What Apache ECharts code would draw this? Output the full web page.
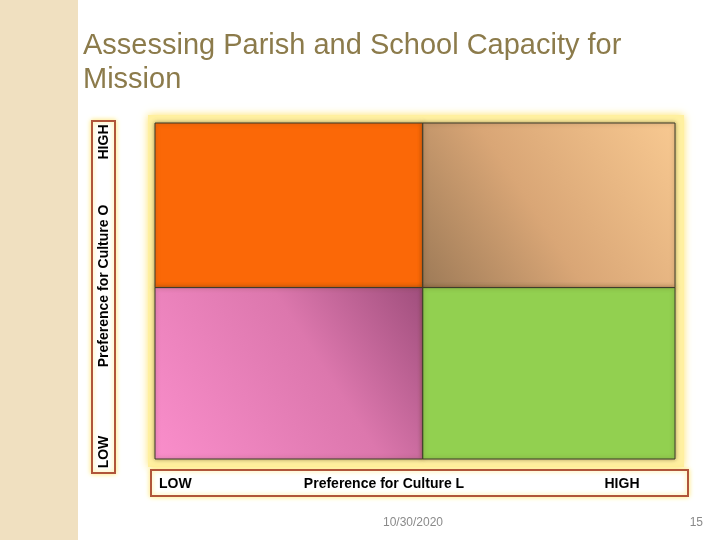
<!DOCTYPE html>
<html>
<head>
<meta charset="utf-8">
<script src="https://cdn.jsdelivr.net/npm/echarts@6/dist/echarts.min.js"></script>
<style>
  html, body { margin: 0; padding: 0; background: #fff; }
  #chart { width: 720px; height: 540px; }
</style>
</head>
<body>
<div id="chart"></div>
<script>
// quadrants of the 2x2 matrix: column (Culture L) and row (Culture O)
const quadrants = ['lowL_highO', 'highL_highO', 'lowL_lowO', 'highL_lowO'];
const quadCol = [0, 1, 0, 1];
const quadRow = [1, 1, 0, 0];
// split points (the left column is a bit wider)
const xEdges = [0, 1.03, 2];
const yEdges = [0, 1.02, 2];

const xLabels = ['LOW', 'Preference for Culture L', 'HIGH'];
const yLabels = ['LOW', 'Preference for Culture O', 'HIGH'];

const titleText = 'Assessing Parish and School Capacity for\nMission';
const footDate = '10/30/2020';
const footPage = '15';

const fills = [
  '#fb6807',
  new echarts.graphic.LinearGradient(0, 1, 1, 0, [
    { offset: 0, color: '#9d7a57' },
    { offset: 0.45, color: '#d9a676' },
    { offset: 1, color: '#f8c991' }
  ]),
  new echarts.graphic.LinearGradient(0, 1, 1, 0, [
    { offset: 0, color: '#fa8ecb' },
    { offset: 0.6, color: '#dc77ad' },
    { offset: 1, color: '#9f4e7c' }
  ]),
  '#92d050'
];

const boldFont = 'bold 14px "Liberation Sans", Arial, sans-serif';

var myChart = echarts.init(document.getElementById('chart'));

myChart.setOption({
  animation: false,
  grid: { left: 155, top: 123, width: 520, height: 336 },
  xAxis: { type: 'value', min: 0, max: 2, show: false },
  yAxis: { type: 'value', min: 0, max: 2, show: false },
  graphic: [
    // left decorative strip
    { type: 'rect', z: -10, shape: { x: 0, y: 0, width: 78, height: 540 },
      style: { fill: '#f0e0c0' } },
    // yellow glow behind the matrix
    { type: 'rect', z: -5, shape: { x: 148, y: 115, width: 536, height: 352 },
      style: { fill: '#fff0a0', shadowBlur: 8, shadowColor: '#ffe36a' } },
    // title
    { type: 'text', left: 83, top: 29, z: 10,
      style: { text: titleText, fill: '#8c7b4b', font: '29px "Liberation Sans", Arial, sans-serif', lineHeight: 34,
        shadowBlur: 2, shadowColor: 'rgba(0,0,0,0.15)', shadowOffsetX: 1, shadowOffsetY: 1 } },
    // y axis box
    { type: 'rect', z: 5, shape: { x: 92, y: 121, width: 23, height: 352 },
      style: { fill: '#fff', stroke: '#b0553a', lineWidth: 2, shadowBlur: 5, shadowColor: '#ffe77a' } },
    { type: 'text', z: 10, x: 104, y: 142, rotation: Math.PI / 2,
      style: { text: yLabels[2], fill: '#000', font: boldFont, align: 'center', verticalAlign: 'middle' } },
    { type: 'text', z: 10, x: 104, y: 286, rotation: Math.PI / 2,
      style: { text: yLabels[1], fill: '#000', font: boldFont, align: 'center', verticalAlign: 'middle' } },
    { type: 'text', z: 10, x: 104, y: 452, rotation: Math.PI / 2,
      style: { text: yLabels[0], fill: '#000', font: boldFont, align: 'center', verticalAlign: 'middle' } },
    // x axis box
    { type: 'rect', z: 5, shape: { x: 151, y: 470, width: 537, height: 26 },
      style: { fill: '#fff', stroke: '#b0553a', lineWidth: 2, shadowBlur: 5, shadowColor: '#ffe77a' } },
    { type: 'text', z: 10, x: 159, y: 484,
      style: { text: xLabels[0], fill: '#000', font: boldFont, align: 'left', verticalAlign: 'middle' } },
    { type: 'text', z: 10, x: 384, y: 484,
      style: { text: xLabels[1], fill: '#000', font: boldFont, align: 'center', verticalAlign: 'middle' } },
    { type: 'text', z: 10, x: 622, y: 484,
      style: { text: xLabels[2], fill: '#000', font: boldFont, align: 'center', verticalAlign: 'middle' } },
    // footer
    { type: 'text', z: 10, x: 413, y: 523,
      style: { text: footDate, fill: '#8a8a8a', font: '12px "Liberation Sans", Arial, sans-serif', align: 'center', verticalAlign: 'middle' } },
    { type: 'text', z: 10, x: 703, y: 523,
      style: { text: footPage, fill: '#8a8a8a', font: '12px "Liberation Sans", Arial, sans-serif', align: 'right', verticalAlign: 'middle' } }
  ],
  series: [{
    type: 'custom',
    data: quadrants.map((q, i) => [quadCol[i], quadRow[i]]),
    renderItem: function (params, api) {
      var c = api.value(0), r = api.value(1);
      var p0 = api.coord([xEdges[c], yEdges[r + 1]]);
      var p1 = api.coord([xEdges[c + 1], yEdges[r]]);
      return {
        type: 'rect',
        shape: { x: p0[0], y: p0[1], width: p1[0] - p0[0], height: p1[1] - p0[1] },
        style: {
          fill: fills[params.dataIndex],
          stroke: '#3a3a2a',
          lineWidth: 1,
          shadowBlur: 4,
          shadowColor: 'rgba(90,60,20,0.5)'
        }
      };
    }
  }]
});
</script>
</body>
</html>
